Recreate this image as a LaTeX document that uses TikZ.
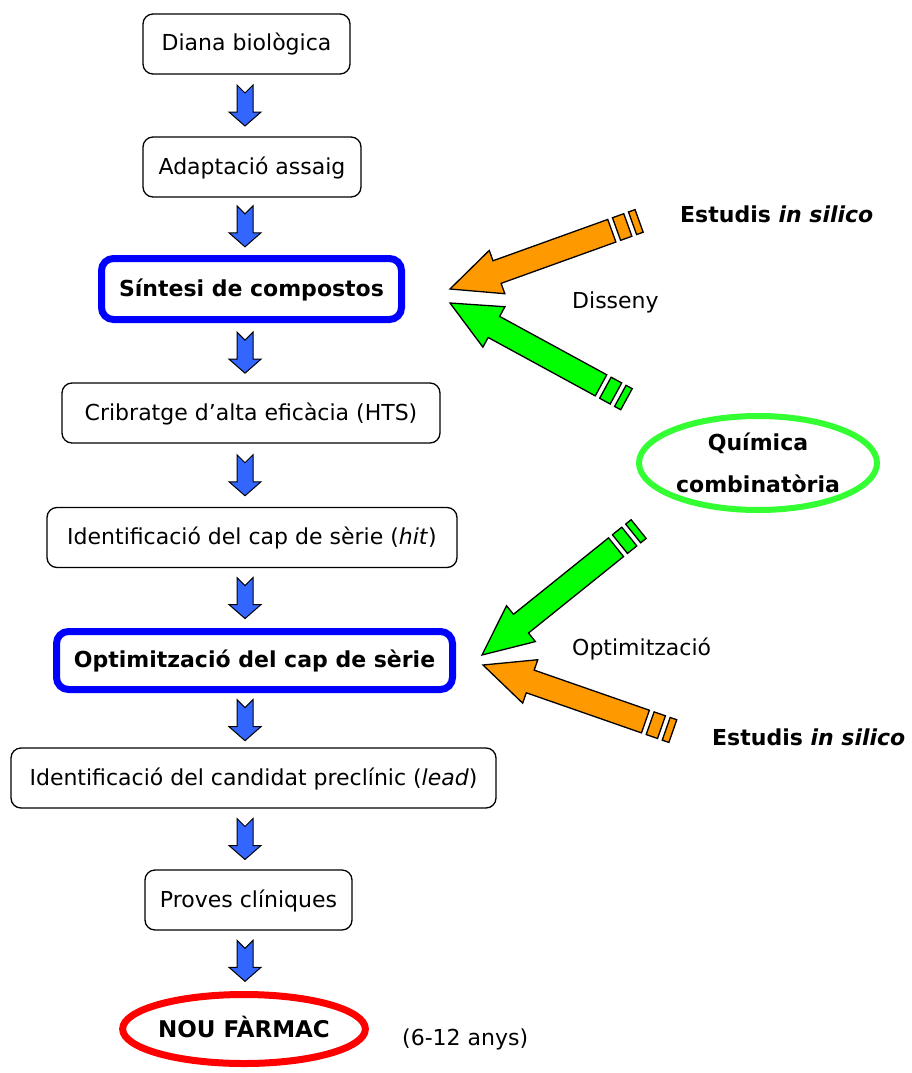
\documentclass[tikz,border=0pt]{standalone}
\usepackage{fontspec}
\setmainfont{DejaVu Sans}
\usetikzlibrary{shapes.geometric,calc}

\definecolor{arrblue}{HTML}{3366FF}
\definecolor{frameblue}{HTML}{0000FF}
\definecolor{orangeA}{HTML}{FF9900}
\definecolor{greenA}{HTML}{00FF00}
\definecolor{greenE}{HTML}{33FF33}
\definecolor{redE}{HTML}{FF0000}

\newcommand\drawStripedArrow[3]{%
  \begin{scope}[shift={(#1)}, rotate=#2]
    \filldraw[fill=#3, draw=black, line width=1.3pt, line join=miter]
      (0,0) -- (50,-23) -- (50,-12) -- (172,-12) -- (172,12) -- (50,12) -- (50,23) -- cycle;
    \filldraw[fill=#3, draw=black, line width=1.3pt] (177,-12) rectangle (189,12);
    \filldraw[fill=#3, draw=black, line width=1.3pt] (194,-12) rectangle (201,12);
  \end{scope}}

\tikzset{
  downarrow/.pic={
    \filldraw[fill=arrblue, draw=black, line width=1pt, line join=miter]
      (-8,-20.5) -- (0,-12.5) -- (8,-20.5) -- (8,6.5) -- (16,6.5) -- (0,20.5) -- (-16,6.5) -- (-8,6.5) -- cycle;
  }
}

\begin{document}
\begin{tikzpicture}[x=1pt,y=-1pt,
  every node/.style={font=\fontsize{22}{26}\selectfont},
  stepbox/.style={draw, line width=1.3pt, rounded corners=10pt, minimum height=60pt,
    inner sep=0pt, text height=18pt, text depth=4pt},
  keybox/.style={draw=frameblue, line width=7pt, rounded corners=12pt, minimum height=61pt,
    inner sep=0pt, text height=18pt, text depth=4pt, font=\fontsize{22}{26}\selectfont\bfseries},
  plainlabel/.style={anchor=base west, inner sep=0pt},
  boldlabel/.style={anchor=base west, inner sep=0pt, font=\fontsize{22}{26}\selectfont\bfseries},
]
\useasboundingbox (0,0) rectangle (912,1073);

% main chain
\node[stepbox, minimum width=207pt] (b1) at (246.5,44) {Diana biològica};
\node[stepbox, minimum width=218pt] (b2) at (252,167) {Adaptació assaig};
\node[keybox,  minimum width=300pt] (b3) at (251.5,289) {Síntesi de compostos};
\node[stepbox, minimum width=378pt] (b4) at (251,413) {Cribratge d’alta eficàcia (HTS)};
\node[stepbox, minimum width=410pt] (b5) at (252,537.5) {Identificació del cap de sèrie (\textit{hit})};
\node[keybox,  minimum width=396pt, minimum height=58pt] (b6) at (254.5,660.5) {Optimització del cap de sèrie};
\node[stepbox, minimum width=485pt] (b7) at (253.5,778) {Identificació del candidat preclínic (\textit{lead})};
\node[stepbox, minimum width=207pt] (b8) at (248.5,900) {Proves clíniques};
\node[ellipse, draw=redE, line width=7pt, minimum width=241pt, minimum height=69pt, inner sep=0pt,
  text height=17pt, text depth=0pt,
  font=\fontsize{23}{27}\selectfont\bfseries] (b9) at (244,1029) {NOU FÀRMAC};
\node[plainlabel] (yrs) at (402,1045) {(6-12 anys)};

% blue block arrows between steps
\coordinate (ax) at (245,0);
\foreach \a/\b in {b1/b2,b2/b3,b3/b4,b4/b5,b5/b6,b6/b7,b7/b8,b8/b9}{
  \path ($(\a.south)!0.5!(\b.north)$) coordinate (m);
  \pic at (m -| ax) {downarrow};
}

% side elements
\node[ellipse, draw=greenE, line width=6pt, minimum width=238pt, minimum height=94pt, inner sep=0pt,
  align=center, font=\fontsize{22}{42}\selectfont\bfseries] (qc) at (758,463) {Química\\combinatòria};
\node[boldlabel] (is1) at (680,222) {Estudis \textit{in silico}};
\node[boldlabel] (is2) at (712,745) {Estudis \textit{in silico}};
\node[plainlabel] (dis) at (572,308) {Disseny};
\node[plainlabel] (opt) at (572,655) {Optimització};

% striped arrows
\coordinate (t1) at (450,289);
\coordinate (t2) at (450,303);
\coordinate (t3) at (482,655);
\coordinate (t4) at (483,665);
\drawStripedArrow{t1}{19.8}{orangeA}
\drawStripedArrow{t2}{-28.6}{greenA}
\drawStripedArrow{t3}{38.8}{greenA}
\drawStripedArrow{t4}{-19.2}{orangeA}
\end{tikzpicture}
\end{document}
